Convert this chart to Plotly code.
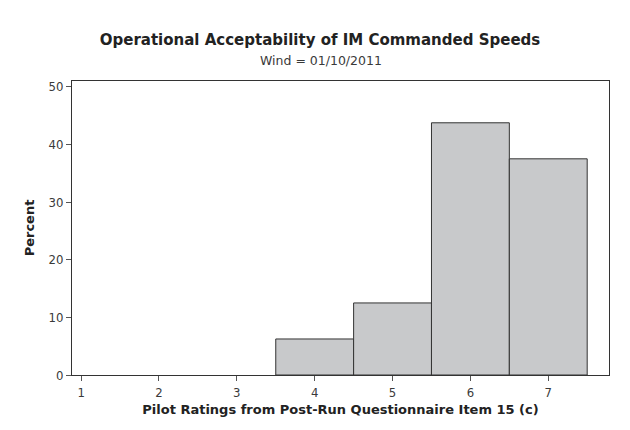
import plotly.graph_objects as go

ratings = [4, 5, 6, 7]
percents = [6.25, 12.5, 43.75, 37.5]
x_ticks = [1, 2, 3, 4, 5, 6, 7]
y_ticks = [0, 10, 20, 30, 40, 50]

title = "Operational Acceptability of IM Commanded Speeds"
subtitle = "Wind = 01/10/2011"
x_title = "Pilot Ratings from Post-Run Questionnaire Item 15 (c)"
y_title = "Percent"

# the page puts ~8px of body margin round the figure, so shift everything back by that
off = 8

fig = go.Figure()
fig.add_trace(go.Bar(x=ratings, y=percents, width=1,
                     marker=dict(color="#c8c9cb", line=dict(color="#333333", width=1)),
                     showlegend=False))

fig.update_layout(
    width=630, height=430,
    paper_bgcolor="white", plot_bgcolor="white",
    margin=dict(l=72 - off, r=21 + off, t=81 - off, b=55 + off),
    font=dict(family="DejaVu Sans Condensed", size=13, color="#3a3a3a"),
    title=dict(text="<b>" + title + "</b>", x=(320 - off) / 630, xanchor="center",
               y=1 - (40 - off) / 430, yanchor="middle",
               font=dict(family="DejaVu Sans", size=15, color="#222222")),
    annotations=[dict(text=subtitle, x=(320 - 71) / 538, y=1 + 21 / 294, xref="paper", yref="paper",
                      xanchor="center", yanchor="middle", showarrow=False,
                      font=dict(family="DejaVu Sans", size=12.5, color="#3a3a3a"))],
    xaxis=dict(range=[0.883, 7.78], tickvals=x_ticks, ticks="outside", ticklen=5,
               tickcolor="#555", showgrid=False, zeroline=False,
               showline=True, linecolor="#333", linewidth=1, mirror=True,
               title=dict(text="<b>" + x_title + "</b>", standoff=6,
                          font=dict(family="DejaVu Sans", size=13, color="#222222"))),
    yaxis=dict(range=[0, 51], tickvals=y_ticks, ticks="outside", ticklen=5,
               tickcolor="#555", showgrid=False, zeroline=False,
               showline=True, linecolor="#333", linewidth=1, mirror=True,
               title=dict(text="<b>" + y_title + "</b>", standoff=10,
                          font=dict(family="DejaVu Sans", size=13, color="#222222"))),
)

fig.write_html("out.html")
